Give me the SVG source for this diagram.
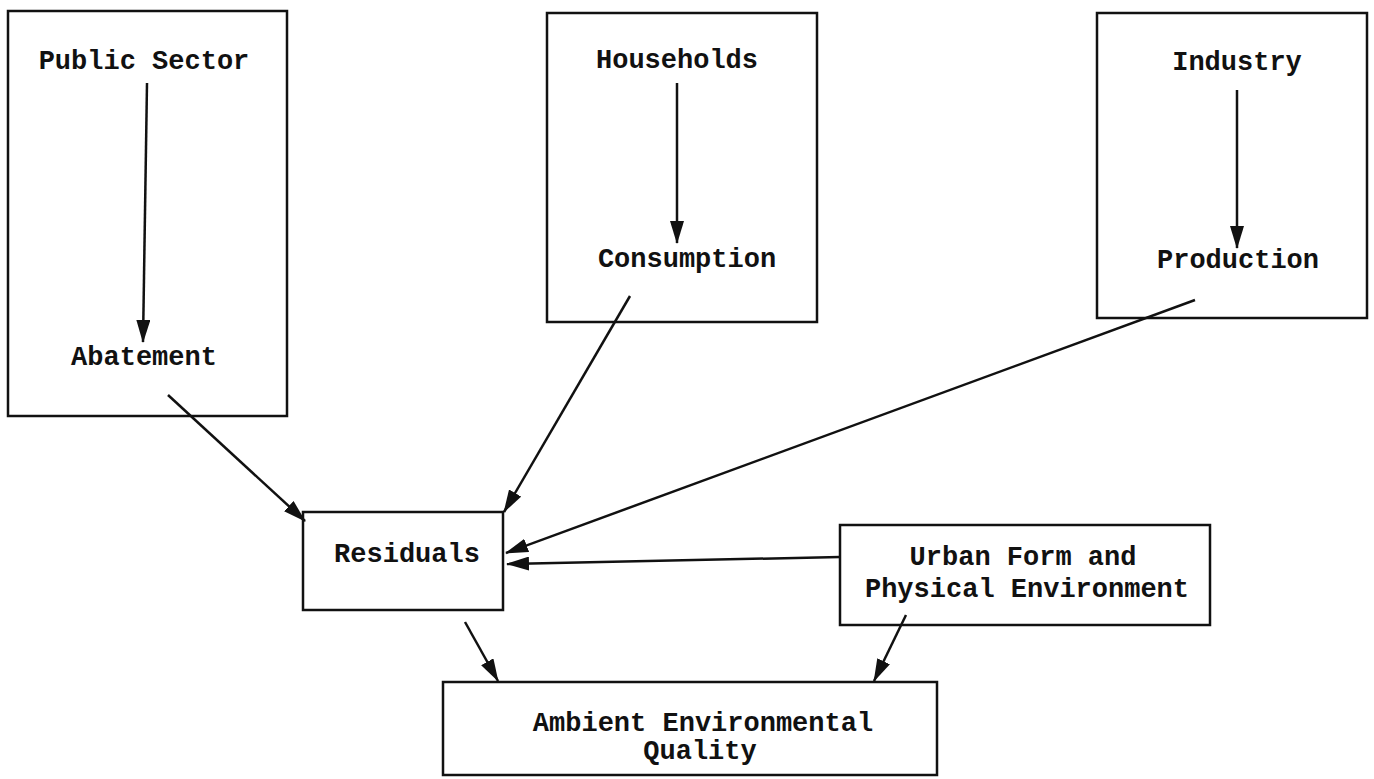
<svg xmlns="http://www.w3.org/2000/svg" width="1374" height="779" viewBox="0 0 1374 779">
<style>
.box{fill:#fff;stroke:#111;stroke-width:2.5}
.t{font-family:"Liberation Mono","Courier New",monospace;font-size:27px;font-weight:bold;fill:#111;text-anchor:middle}
.c{stroke:#111;stroke-width:2.5;fill:none;marker-end:url(#ah)}
</style>
<defs>
<marker id="ah" markerUnits="userSpaceOnUse" markerWidth="24" markerHeight="14" refX="22" refY="7" orient="auto" viewBox="0 0 24 14">
<path d="M0,0 L23,7 L0,14 z" fill="#111"/>
</marker>
</defs>
<rect width="1374" height="779" fill="#fff"/>
<g id="public-sector">
<rect class="box" x="8" y="11" width="279" height="405"/>
<text class="t" x="144" y="69">Public Sector</text>
<text class="t" x="144" y="365">Abatement</text>
</g>
<g id="households">
<rect class="box" x="547" y="13" width="270" height="309"/>
<text class="t" x="677" y="68">Households</text>
<text class="t" x="687" y="267">Consumption</text>
</g>
<g id="industry">
<rect class="box" x="1097" y="13" width="270" height="305"/>
<text class="t" x="1237" y="70">Industry</text>
<text class="t" x="1238" y="268">Production</text>
</g>
<g id="residuals">
<rect class="box" x="303" y="512" width="200" height="98"/>
<text class="t" x="407" y="562">Residuals</text>
</g>
<g id="urban-form">
<rect class="box" x="840" y="525" width="370" height="100"/>
<text class="t" x="1023" y="565">Urban Form and</text>
<text class="t" x="1027" y="597">Physical Environment</text>
</g>
<g id="ambient-quality">
<rect class="box" x="443" y="682" width="494" height="93"/>
<text class="t" x="703" y="731">Ambient Environmental</text>
<text class="t" x="700" y="759">Quality</text>
</g>
<g id="connectors">
<line class="c" x1="147" y1="83" x2="143" y2="342"/>
<line class="c" x1="677" y1="83" x2="677" y2="243"/>
<line class="c" x1="1237" y1="90" x2="1237" y2="248"/>
<line class="c" x1="168" y1="395" x2="305" y2="521"/>
<line class="c" x1="630" y1="296" x2="504" y2="512"/>
<line class="c" x1="1195" y1="300" x2="506" y2="553"/>
<line class="c" x1="840" y1="557" x2="507" y2="564"/>
<line class="c" x1="465" y1="622" x2="498" y2="681"/>
<line class="c" x1="906" y1="615" x2="874" y2="681"/>
</g>
</svg>
